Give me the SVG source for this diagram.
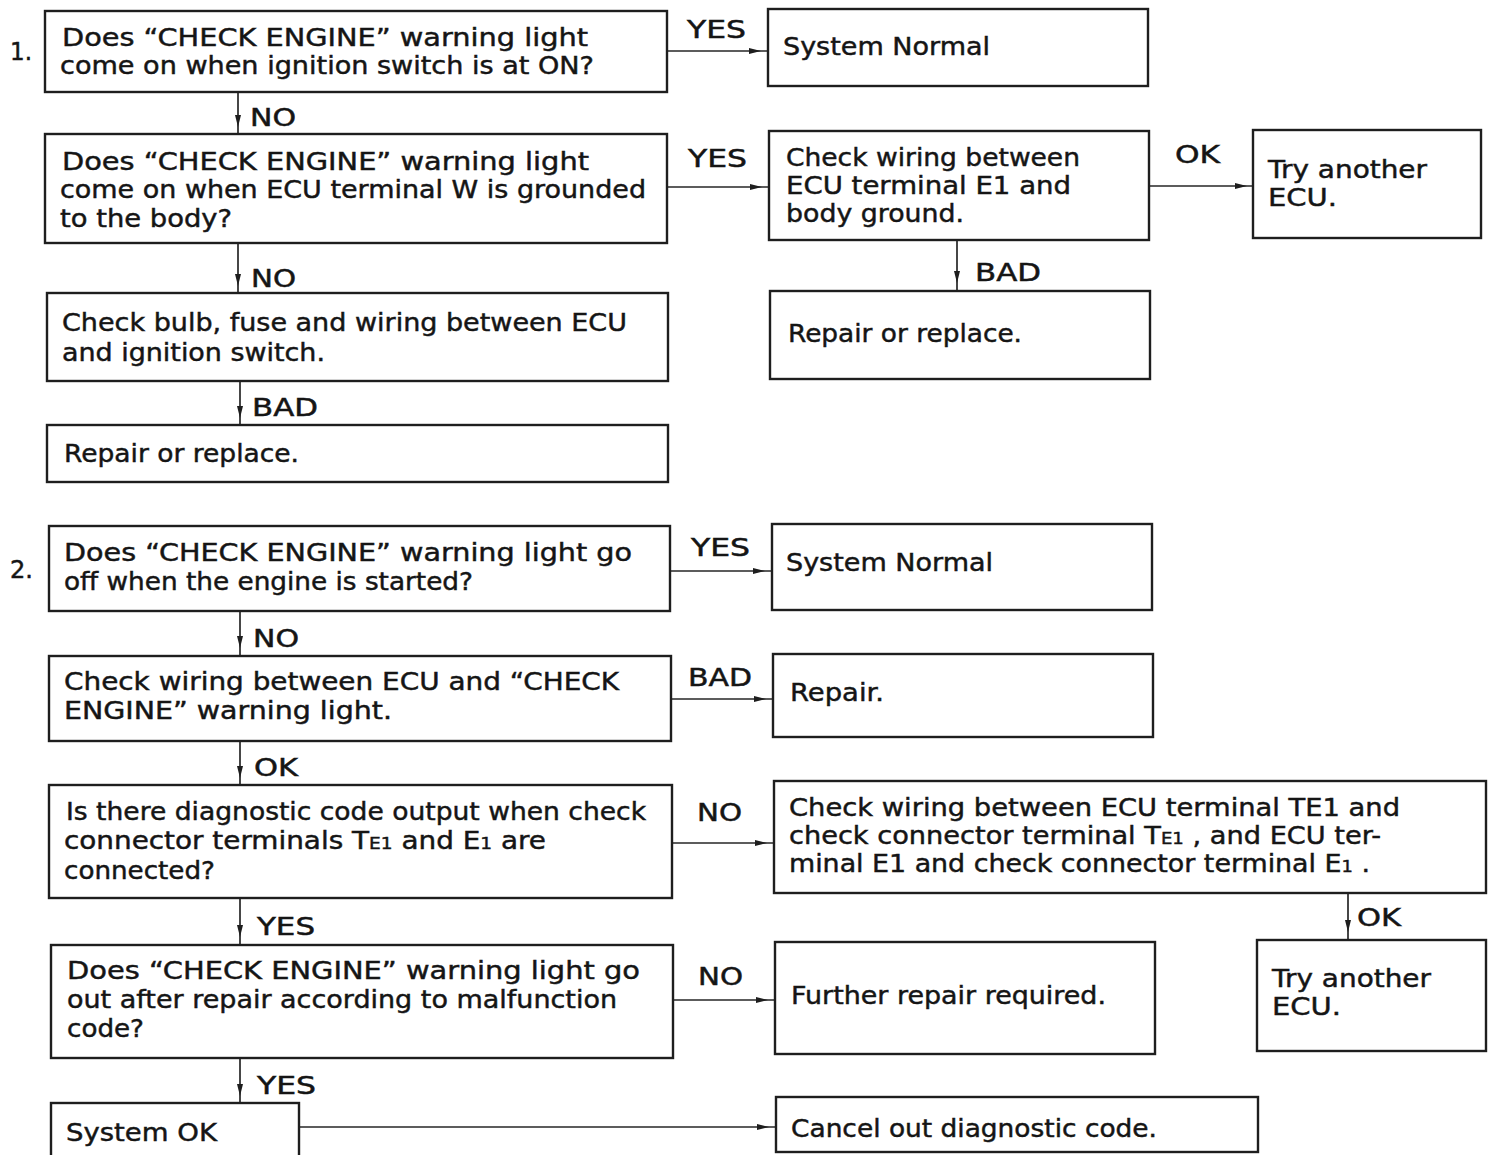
<svg xmlns="http://www.w3.org/2000/svg" width="1489" height="1155" viewBox="0 0 1489 1155">
  <style>
    .box { fill: #ffffff; stroke: #1e1e1e; stroke-width: 2.4; }
    .t { font-family: "DejaVu Sans", "Liberation Sans", sans-serif; font-size: 24px; fill: #151515; stroke: #151515; stroke-width: 0.45; }
    .lbl { font-family: "DejaVu Sans", "Liberation Sans", sans-serif; font-size: 25px; fill: #151515; stroke: #151515; stroke-width: 0.5; }
    .sub { font-size: 16px; }
    .conn { fill: none; stroke: #262626; stroke-width: 1.7; marker-mid: url(#arrow); }
  </style>
  <defs>
    <marker id="arrow" markerUnits="userSpaceOnUse" markerWidth="13" markerHeight="8" refX="12" refY="3.5" orient="auto">
      <path d="M0,0.5 L12,3.5 L0,6.5 z" fill="#1e1e1e"/>
    </marker>
  </defs>
  <rect width="1489" height="1155" fill="#ffffff"/>

  <!-- section numbers -->
  <text class="lbl" x="10" y="60" textLength="22" lengthAdjust="spacingAndGlyphs">1.</text>
  <text class="lbl" x="10" y="578" textLength="23" lengthAdjust="spacingAndGlyphs">2.</text>

  <!-- connectors: a mid vertex carries the arrowhead just short of the target box -->
  <g id="connectors">
    <path class="conn" d="M667,51 L761,51 L768,51"/>
    <path class="conn" d="M238,92 L238,127 L238,134"/>
    <path class="conn" d="M667,187 L762,187 L769,187"/>
    <path class="conn" d="M1149,186 L1247,186 L1253,186"/>
    <path class="conn" d="M957,240 L957,283 L957,291"/>
    <path class="conn" d="M238,243 L238,286 L238,293"/>
    <path class="conn" d="M240,381 L240,418 L240,425"/>
    <path class="conn" d="M670,571 L765,571 L772,571"/>
    <path class="conn" d="M240,611 L240,648 L240,656"/>
    <path class="conn" d="M671,699 L766,699 L773,699"/>
    <path class="conn" d="M240,741 L240,778 L240,785"/>
    <path class="conn" d="M672,843 L767,843 L774,843"/>
    <path class="conn" d="M1348,893 L1348,932 L1348,940"/>
    <path class="conn" d="M240,898 L240,937 L240,945"/>
    <path class="conn" d="M673,1000 L768,1000 L775,1000"/>
    <path class="conn" d="M240,1058 L240,1096 L240,1103"/>
    <path class="conn" d="M299,1127 L769,1127 L776,1127"/>
  </g>

  <!-- connector labels -->
  <g id="labels">
    <text class="lbl" x="687" y="38" textLength="59" lengthAdjust="spacingAndGlyphs">YES</text>
    <text class="lbl" x="250" y="126" textLength="46" lengthAdjust="spacingAndGlyphs">NO</text>
    <text class="lbl" x="688" y="167" textLength="59" lengthAdjust="spacingAndGlyphs">YES</text>
    <text class="lbl" x="1175" y="163" textLength="45" lengthAdjust="spacingAndGlyphs">OK</text>
    <text class="lbl" x="251" y="287" textLength="45" lengthAdjust="spacingAndGlyphs">NO</text>
    <text class="lbl" x="975" y="281" textLength="66" lengthAdjust="spacingAndGlyphs">BAD</text>
    <text class="lbl" x="252" y="416" textLength="66" lengthAdjust="spacingAndGlyphs">BAD</text>
    <text class="lbl" x="691" y="556" textLength="59" lengthAdjust="spacingAndGlyphs">YES</text>
    <text class="lbl" x="253" y="647" textLength="46" lengthAdjust="spacingAndGlyphs">NO</text>
    <text class="lbl" x="688" y="686" textLength="64" lengthAdjust="spacingAndGlyphs">BAD</text>
    <text class="lbl" x="254" y="776" textLength="44" lengthAdjust="spacingAndGlyphs">OK</text>
    <text class="lbl" x="697" y="821" textLength="45" lengthAdjust="spacingAndGlyphs">NO</text>
    <text class="lbl" x="1357" y="926" textLength="44" lengthAdjust="spacingAndGlyphs">OK</text>
    <text class="lbl" x="257" y="935" textLength="58" lengthAdjust="spacingAndGlyphs">YES</text>
    <text class="lbl" x="698" y="985" textLength="45" lengthAdjust="spacingAndGlyphs">NO</text>
    <text class="lbl" x="257" y="1094" textLength="59" lengthAdjust="spacingAndGlyphs">YES</text>
  </g>

  <!-- section 1 -->
  <g id="q1-light-on">
    <rect class="box" x="45" y="11" width="622" height="81"/>
    <text class="t" x="62" y="46" textLength="526" lengthAdjust="spacingAndGlyphs">Does “CHECK ENGINE” warning light</text>
    <text class="t" x="60" y="74" textLength="534" lengthAdjust="spacingAndGlyphs">come on when ignition switch is at ON?</text>
  </g>
  <g id="r1-normal">
    <rect class="box" x="768" y="9" width="380" height="77"/>
    <text class="t" x="783" y="55" textLength="207" lengthAdjust="spacingAndGlyphs">System Normal</text>
  </g>
  <g id="q1-terminal-w">
    <rect class="box" x="45" y="134" width="622" height="109"/>
    <text class="t" x="62" y="170" textLength="527" lengthAdjust="spacingAndGlyphs">Does “CHECK ENGINE” warning light</text>
    <text class="t" x="60" y="198" textLength="586" lengthAdjust="spacingAndGlyphs">come on when ECU terminal W is grounded</text>
    <text class="t" x="60" y="227" textLength="172" lengthAdjust="spacingAndGlyphs">to the body?</text>
  </g>
  <g id="c1-e1-ground">
    <rect class="box" x="769" y="131" width="380" height="109"/>
    <text class="t" x="786" y="166" textLength="294" lengthAdjust="spacingAndGlyphs">Check wiring between</text>
    <text class="t" x="786" y="194" textLength="285" lengthAdjust="spacingAndGlyphs">ECU terminal E1 and</text>
    <text class="t" x="786" y="222" textLength="178" lengthAdjust="spacingAndGlyphs">body ground.</text>
  </g>
  <g id="r1-try-ecu">
    <rect class="box" x="1253" y="130" width="228" height="108"/>
    <text class="t" x="1268" y="178" textLength="159" lengthAdjust="spacingAndGlyphs">Try another</text>
    <text class="t" x="1268" y="206" textLength="69" lengthAdjust="spacingAndGlyphs">ECU.</text>
  </g>
  <g id="r1-repair-ground">
    <rect class="box" x="770" y="291" width="380" height="88"/>
    <text class="t" x="788" y="342" textLength="234" lengthAdjust="spacingAndGlyphs">Repair or replace.</text>
  </g>
  <g id="c1-bulb-fuse">
    <rect class="box" x="47" y="293" width="621" height="88"/>
    <text class="t" x="62" y="331" textLength="565" lengthAdjust="spacingAndGlyphs">Check bulb, fuse and wiring between ECU</text>
    <text class="t" x="62" y="361" textLength="263" lengthAdjust="spacingAndGlyphs">and ignition switch.</text>
  </g>
  <g id="r1-repair-bulb">
    <rect class="box" x="47" y="425" width="621" height="57"/>
    <text class="t" x="64" y="462" textLength="235" lengthAdjust="spacingAndGlyphs">Repair or replace.</text>
  </g>

  <!-- section 2 -->
  <g id="q2-light-off">
    <rect class="box" x="49" y="526" width="621" height="85"/>
    <text class="t" x="64" y="561" textLength="568" lengthAdjust="spacingAndGlyphs">Does “CHECK ENGINE” warning light go</text>
    <text class="t" x="64" y="590" textLength="409" lengthAdjust="spacingAndGlyphs">off when the engine is started?</text>
  </g>
  <g id="r2-normal">
    <rect class="box" x="772" y="524" width="380" height="86"/>
    <text class="t" x="786" y="571" textLength="207" lengthAdjust="spacingAndGlyphs">System Normal</text>
  </g>
  <g id="c2-lamp-wiring">
    <rect class="box" x="49" y="656" width="622" height="85"/>
    <text class="t" x="64" y="690" textLength="555" lengthAdjust="spacingAndGlyphs">Check wiring between ECU and “CHECK</text>
    <text class="t" x="64" y="719" textLength="328" lengthAdjust="spacingAndGlyphs">ENGINE” warning light.</text>
  </g>
  <g id="r2-repair">
    <rect class="box" x="773" y="654" width="380" height="83"/>
    <text class="t" x="790" y="701" textLength="94" lengthAdjust="spacingAndGlyphs">Repair.</text>
  </g>
  <g id="q2-code-output">
    <rect class="box" x="49" y="785" width="623" height="113"/>
    <text class="t" x="66" y="820" textLength="580" lengthAdjust="spacingAndGlyphs">Is there diagnostic code output when check</text>
    <text class="t" x="64" y="849" textLength="482" lengthAdjust="spacingAndGlyphs">connector terminals T<tspan class="sub">E1</tspan>  and E<tspan class="sub">1</tspan>  are</text>
    <text class="t" x="64" y="879" textLength="151" lengthAdjust="spacingAndGlyphs">connected?</text>
  </g>
  <g id="c2-te1-wiring">
    <rect class="box" x="774" y="781" width="712" height="112"/>
    <text class="t" x="789" y="816" textLength="611" lengthAdjust="spacingAndGlyphs">Check wiring between ECU terminal TE1 and</text>
    <text class="t" x="789" y="844" textLength="592" lengthAdjust="spacingAndGlyphs">check connector terminal T<tspan class="sub" font-size="18">E1</tspan> , and ECU ter-</text>
    <text class="t" x="789" y="872" textLength="581" lengthAdjust="spacingAndGlyphs">minal E1 and check connector terminal E<tspan class="sub">1</tspan> .</text>
  </g>
  <g id="r2-try-ecu">
    <rect class="box" x="1257" y="940" width="229" height="111"/>
    <text class="t" x="1272" y="987" textLength="159" lengthAdjust="spacingAndGlyphs">Try another</text>
    <text class="t" x="1272" y="1015" textLength="69" lengthAdjust="spacingAndGlyphs">ECU.</text>
  </g>
  <g id="q2-after-repair">
    <rect class="box" x="51" y="945" width="622" height="113"/>
    <text class="t" x="67" y="979" textLength="573" lengthAdjust="spacingAndGlyphs">Does “CHECK ENGINE” warning light  go</text>
    <text class="t" x="67" y="1008" textLength="550" lengthAdjust="spacingAndGlyphs">out after repair according to malfunction</text>
    <text class="t" x="67" y="1037" textLength="77" lengthAdjust="spacingAndGlyphs">code?</text>
  </g>
  <g id="r2-further-repair">
    <rect class="box" x="775" y="942" width="380" height="112"/>
    <text class="t" x="791" y="1004" textLength="315" lengthAdjust="spacingAndGlyphs">Further repair required.</text>
  </g>
  <g id="r2-system-ok">
    <rect class="box" x="51" y="1103" width="248" height="60"/>
    <text class="t" x="66" y="1141" textLength="151" lengthAdjust="spacingAndGlyphs">System OK</text>
  </g>
  <g id="r2-cancel-code">
    <rect class="box" x="776" y="1097" width="482" height="55"/>
    <text class="t" x="791" y="1137" textLength="366" lengthAdjust="spacingAndGlyphs">Cancel out diagnostic code.</text>
  </g>
</svg>
